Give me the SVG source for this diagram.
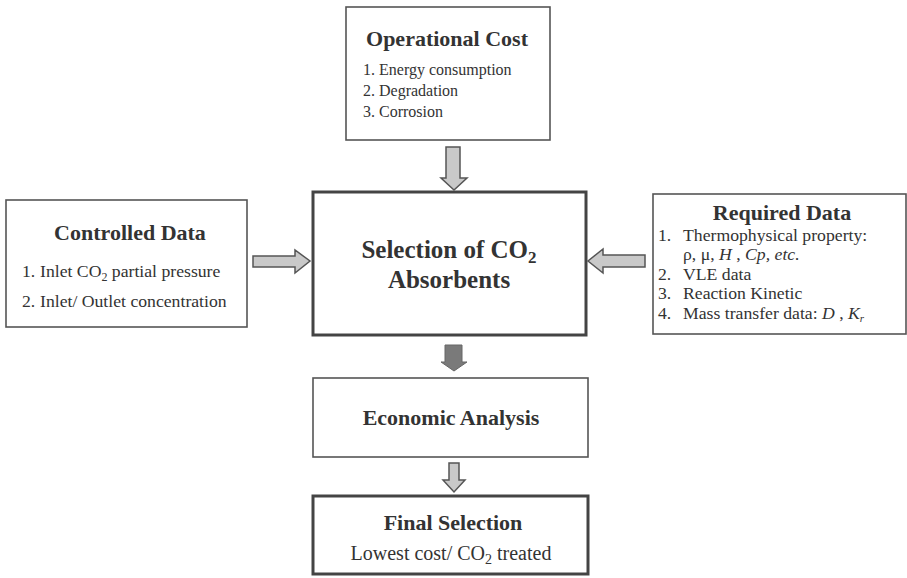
<svg xmlns="http://www.w3.org/2000/svg" width="907" height="578" viewBox="0 0 907 578" font-family="'Liberation Serif', 'Times New Roman', serif">
<style>
text{font-family:'Liberation Serif','Times New Roman',serif;fill:#333}
.t{font-weight:bold;font-size:22px;text-anchor:middle}
.big{font-weight:bold;font-size:25px;text-anchor:middle}
.box{fill:#fff;stroke:#555;stroke-width:1.6}
.thick{fill:#fff;stroke:#444;stroke-width:3}
.arr{fill:#c9c9c9;stroke:#555;stroke-width:1.5;stroke-linejoin:miter}
.darr{fill:#7a7a7a;stroke:#666;stroke-width:1}
.i16{font-size:16px}
.i18{font-size:17.7px}
.it{font-style:italic}
</style>
<rect width="907" height="578" fill="#fff"/>
<g id="operational-cost">
<rect class="box" x="346" y="7" width="204" height="133"/>
<text class="t" x="447" y="46">Operational Cost</text>
<text class="i16" x="363" y="75">1. Energy consumption</text>
<text class="i16" x="363" y="96">2. Degradation</text>
<text class="i16" x="363" y="117">3. Corrosion</text>
</g>
<g id="controlled-data">
<rect class="box" x="6" y="200" width="241" height="127"/>
<text class="t" x="130" y="240">Controlled Data</text>
<text class="i18" x="22" y="277">1.</text>
<text class="i18" x="40" y="277">Inlet CO<tspan font-size="12" dy="4">2</tspan><tspan dy="-4"> partial pressure</tspan></text>
<text class="i18" x="22" y="307">2.</text>
<text class="i18" x="40" y="307">Inlet/ Outlet concentration</text>
</g>
<g id="selection">
<rect class="thick" x="313" y="192" width="273" height="143"/>
<text class="big" x="449" y="258">Selection of CO<tspan font-size="17" dy="5">2</tspan></text>
<text class="big" x="449" y="288">Absorbents</text>
</g>
<g id="required-data">
<rect class="box" x="653" y="194" width="253" height="140"/>
<text class="t" x="782" y="220">Required Data</text>
<text class="i18" x="658" y="241">1.</text>
<text class="i18" x="683" y="241">Thermophysical property:</text>
<text class="i18" x="683" y="260">ρ, μ, <tspan class="it">H</tspan> , <tspan class="it">Cp, etc.</tspan></text>
<text class="i18" x="658" y="280">2.</text>
<text class="i18" x="683" y="280">VLE data</text>
<text class="i18" x="658" y="299">3.</text>
<text class="i18" x="683" y="299">Reaction Kinetic</text>
<text class="i18" x="658" y="319">4.</text>
<text class="i18" x="683" y="319">Mass transfer data: <tspan class="it">D</tspan> , <tspan class="it">K</tspan><tspan class="it" font-size="11" dy="3">r</tspan></text>
</g>
<g id="economic-analysis">
<rect class="box" x="313" y="378" width="275" height="79"/>
<text class="t" x="451" y="425" font-size="21">Economic Analysis</text>
</g>
<g id="final-selection">
<rect class="thick" x="313" y="496" width="275" height="78"/>
<text class="t" x="453" y="530">Final Selection</text>
<text x="451" y="560" font-size="20" text-anchor="middle">Lowest cost/ CO<tspan font-size="14" dy="4">2</tspan><tspan dy="-4"> treated</tspan></text>
</g>
<g id="connectors">
<polygon class="arr" points="446,147 460,147 460,178 467,178 454,190 441,178 446,178"/>
<polygon class="arr" points="253,256 295,256 295,250 310,261 295,273 295,267 253,267"/>
<polygon class="arr" points="645,255 603,255 603,249 588,261 603,273 603,267 645,267"/>
<polygon class="darr" points="445,345 462,345 462,362 467,362 454,371 441,362 445,362"/>
<polygon class="arr" points="449,463 459,463 459,480 465,480 454,492 443,480 449,480"/>
</g>
</svg>
